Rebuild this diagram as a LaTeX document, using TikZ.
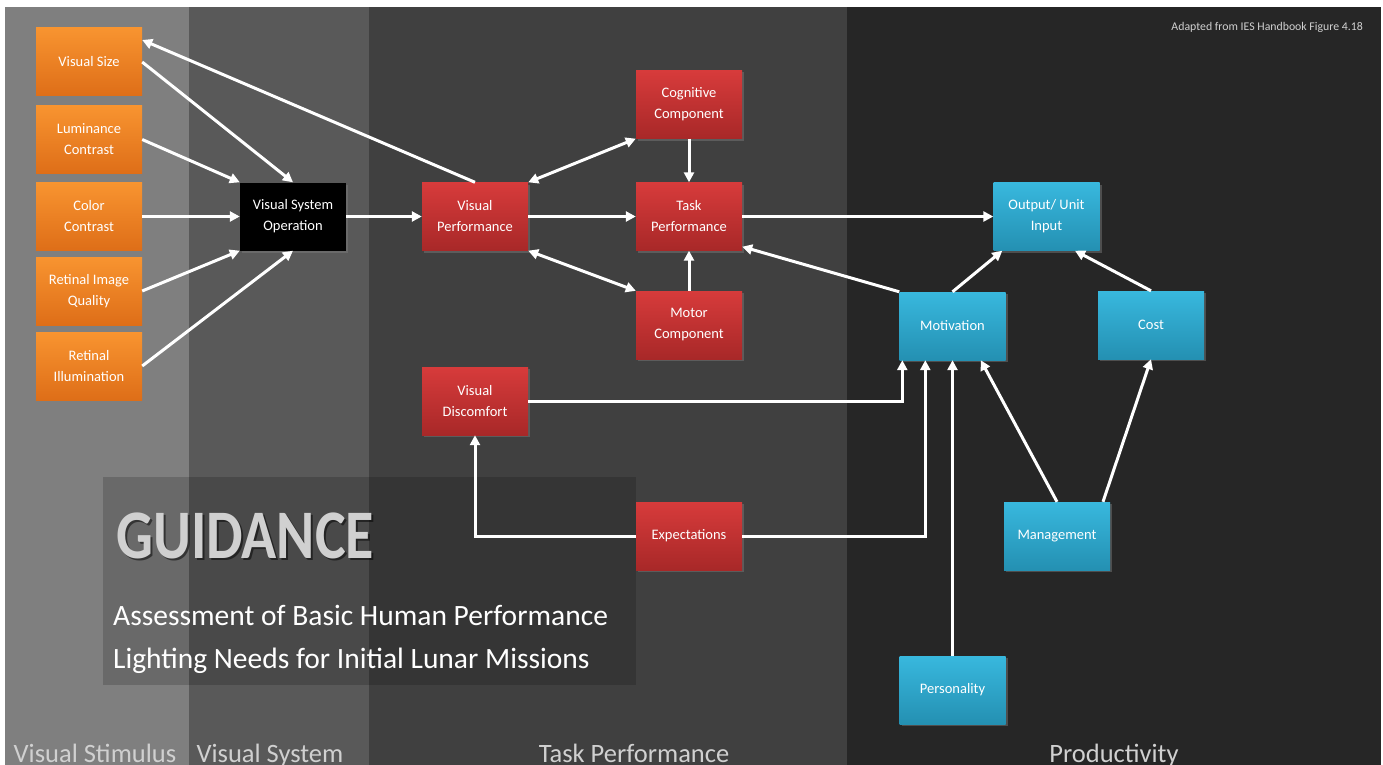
\documentclass[tikz,border=0pt]{standalone}
\usepackage{fontspec}
\setmainfont{Carlito}
\usetikzlibrary{arrows.meta,shadows,calc}
\definecolor{bandA}{HTML}{7F7F7F}
\definecolor{bandB}{HTML}{595959}
\definecolor{bandC}{HTML}{404040}
\definecolor{bandD}{HTML}{262626}
\definecolor{orTop}{HTML}{F89430}
\definecolor{orBot}{HTML}{DE6E18}
\definecolor{rdTop}{HTML}{D73B3B}
\definecolor{rdBot}{HTML}{A82828}
\definecolor{blTop}{HTML}{38B8DE}
\definecolor{blBot}{HTML}{2490B2}
\definecolor{lbl}{HTML}{D0D0D0}
\tikzset{
  box/.style={minimum width=106pt, minimum height=68pt, inner sep=0pt, align=center,
    text=white, font=\fontsize{14.5}{21}\selectfont,
    drop shadow={opacity=0.45, shadow xshift=2pt, shadow yshift=-2pt}},
  orangebox/.style={box, top color=orTop, bottom color=orBot},
  redbox/.style={box, top color=rdTop, bottom color=rdBot},
  bluebox/.style={box, top color=blTop, bottom color=blBot},
  blackbox/.style={box, fill=black},
  arr/.style={draw=white, line width=3pt, -{Triangle[length=10pt,width=10pt]}},
  darr/.style={draw=white, line width=3pt, {Triangle[length=10pt,width=10pt]}-{Triangle[length=10pt,width=10pt]}},
  bandlabel/.style={text=lbl, font=\fontsize{26.5}{30}\selectfont, anchor=base, inner sep=0pt}
}
\begin{document}
\begin{tikzpicture}[x=1pt,y=-1pt]
\useasboundingbox (0,0) rectangle (1383,765);
\fill[white] (0,0) rectangle (1383,765);
\fill[bandA] (5,7) rectangle (189,765);
\fill[bandB] (189,7) rectangle (369,765);
\fill[bandC] (369,7) rectangle (847,765);
\fill[bandD] (847,7) rectangle (1381,765);
\fill[black,opacity=0.17] (103,477) rectangle (636,685);

% guidance text
\node[anchor=base west, inner sep=0pt, text=black, opacity=0.5, font=\fontsize{58}{60}\selectfont\bfseries] at (118,560) {\scalebox{1}[1.2]{GUIDANCE}};
\node[anchor=base west, inner sep=0pt, text=lbl, font=\fontsize{58}{60}\selectfont\bfseries] (guid) at (116,558) {\scalebox{1}[1.2]{GUIDANCE}};
\node[anchor=base west, inner sep=0pt, text=white, font=\fontsize{29.5}{31}\selectfont] (sub1) at (113,625) {Assessment of Basic Human Performance};
\node[anchor=base west, inner sep=0pt, text=white, font=\fontsize{29.5}{31}\selectfont] (sub2) at (113,668) {Lighting Needs for Initial Lunar Missions};

\node[anchor=base east, inner sep=0pt, text=lbl, font=\fontsize{11.8}{13}\selectfont] (src) at (1363,31) {Adapted from IES Handbook Figure 4.18};

% band labels
\node[bandlabel] (l1) at (95,762) {Visual Stimulus};
\node[bandlabel] (l2) at (270,762) {Visual System};
\node[bandlabel] (l3) at (634,762) {Task Performance};
\node[bandlabel] (l4) at (1114,762) {Productivity};

% nodes
\node[orangebox] (vs) at (89,62) {Visual Size};
\node[orangebox] (lc) at (89,139.5) {Luminance\\Contrast};
\node[orangebox] (cc) at (89,216.5) {Color\\Contrast};
\node[orangebox] (riq) at (89,291) {Retinal Image\\Quality};
\node[orangebox] (ri) at (89,366) {Retinal\\Illumination};
\node[blackbox] (vso) at (293,216.5) {Visual System\\Operation};
\node[redbox] (vp) at (475,216.5) {Visual\\Performance};
\node[redbox] (cog) at (689,104.5) {Cognitive\\Component};
\node[redbox] (task) at (689,216.5) {Task\\Performance};
\node[redbox] (motor) at (689,325) {Motor\\Component};
\node[redbox] (vd) at (475,401) {Visual\\Discomfort};
\node[redbox] (exp) at (689,536) {Expectations};
\node[bluebox] (out) at (1046.5,216.5) {Output/ Unit\\Input};
\node[bluebox] (mot) at (952.5,326) {Motivation};
\node[bluebox] (cost) at (1151,325) {Cost};
\node[bluebox] (mgmt) at (1057,536) {Management};
\node[bluebox] (pers) at (952.5,690) {Personality};

% connectors
\draw[arr] (vp.north) -- ([yshift=22pt]vs.east);
\draw[arr] (vs.east) -- (vso.north);
\draw[arr] (lc.east) -- (vso.north west);
\draw[arr] (cc.east) -- (vso.west);
\draw[arr] (riq.east) -- (vso.south west);
\draw[arr] (ri.east) -- (vso.south);
\draw[arr] (vso.east) -- (vp.west);
\draw[darr] (vp.north east) -- (cog.south west);
\draw[arr] (cog.south) -- (task.north);
\draw[arr] (vp.east) -- (task.west);
\draw[darr] (vp.south east) -- (motor.north west);
\draw[arr] (motor.north) -- (task.south);
\draw[arr] (task.east) -- (out.west);
\draw[arr] (mot.north west) -- ([yshift=4pt]task.south east);
\draw[arr] (mot.north) -- ([xshift=9pt]out.south west);
\draw[arr] (cost.north) -- ([xshift=28.5pt]out.south);
\draw[arr] (mgmt.north) -- ([xshift=-25pt]mot.south east);
\draw[arr] ([xshift=46pt]mgmt.north) -- (cost.south);
\draw[arr] (pers.north) -- (mot.south);
\draw[arr] (vd.east) -| ([xshift=3pt]mot.south west);
\draw[arr] (exp.east) -| ([xshift=26pt]mot.south west);
\draw[arr] (exp.west) -| (vd.south);
\end{tikzpicture}
\end{document}
